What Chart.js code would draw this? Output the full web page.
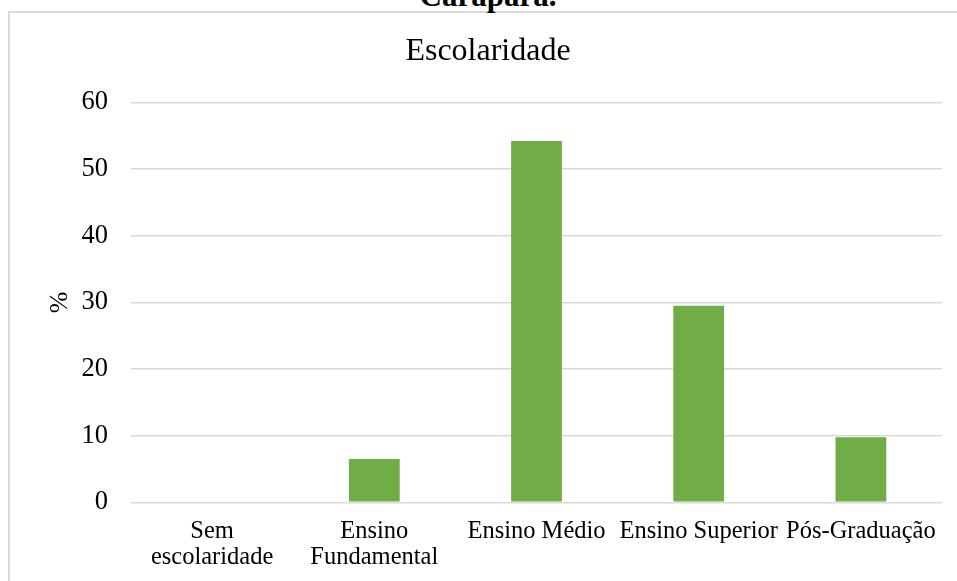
<!DOCTYPE html>
<html>
<head>
<meta charset="utf-8">
<script src="https://cdn.jsdelivr.net/npm/chart.js@4"></script>
<style>
    html, body { margin: 0; padding: 0; background: #fff; overflow: hidden; }
    body { width: 957px; height: 581px; position: relative; }
    #frame {
        position: absolute; left: 8px; top: 11px; width: 2000px; height: 2000px;
        border-left: 2px solid #d9d9d9; border-top: 2px solid #d9d9d9;
    }
    #caption {
        position: absolute; left: 0; top: -20px; width: 976px; text-align: center;
        font: bold 31px/31px 'Liberation Serif', serif; color: #000;
    }
    #chart { position: absolute; left: 0; top: 0; }
</style>
</head>
<body>
<div id="frame"></div>
<div id="caption">Carapará.</div>
<canvas id="chart" width="957" height="581"></canvas>
<script>
const categories = [['Sem', 'escolaridade'], ['Ensino', 'Fundamental'], 'Ensino Médio', 'Ensino Superior', 'Pós-Graduação'];
const percentValues = [0, 6.5, 54.2, 29.5, 9.75];
const yTicks = [0, 10, 20, 30, 40, 50, 60];

const serif = "'Liberation Serif', 'Times New Roman', serif";

const ctx = document.getElementById('chart');
const chart = new Chart(ctx, {
    type: 'bar',
    data: {
        labels: categories,
        datasets: [{
            label: '%',
            data: percentValues,
            backgroundColor: '#70ad47',
            borderWidth: 0,
            categoryPercentage: 1,
            barPercentage: 0.313
        }]
    },
    options: {
        responsive: false,
        devicePixelRatio: 1,
        animation: false,
        layout: {
            padding: { left: 34, right: 15, top: 0, bottom: 0 }
        },
        plugins: {
            legend: { display: false },
            tooltip: { enabled: false },
            title: {
                display: true,
                text: 'Escolaridade',
                color: '#000',
                font: { family: serif, size: 32, weight: 'normal', lineHeight: 1.2 },
                padding: { top: 32, bottom: 32 }
            }
        },
        scales: {
            x: {
                grid: { display: false, drawTicks: false },
                border: { display: false },
                ticks: {
                    color: '#000',
                    font: { family: serif, size: 24.5, lineHeight: 1.06 },
                    padding: 16,
                    maxRotation: 0,
                    autoSkip: false
                },
                afterFit: function(scale) {
                    scale.height = 78.7;
                }
            },
            y: {
                min: 0,
                max: 60,
                afterBuildTicks: function(scale) {
                    scale.ticks = yTicks.map(v => ({ value: v }));
                },
                grid: { color: '#d9d9d9', lineWidth: 1.5, drawTicks: false },
                border: { display: false },
                ticks: {
                    color: '#000',
                    font: { family: serif, size: 26.5 },
                    padding: 23
                },
                title: {
                    display: true,
                    text: '%',
                    color: '#000',
                    font: { family: serif, size: 26, lineHeight: 1.2 },
                    padding: { top: 11, bottom: 0 }
                },
                afterFit: function(scale) {
                    scale.width = 97;
                }
            }
        }
    }
});
</script>
</body>
</html>
